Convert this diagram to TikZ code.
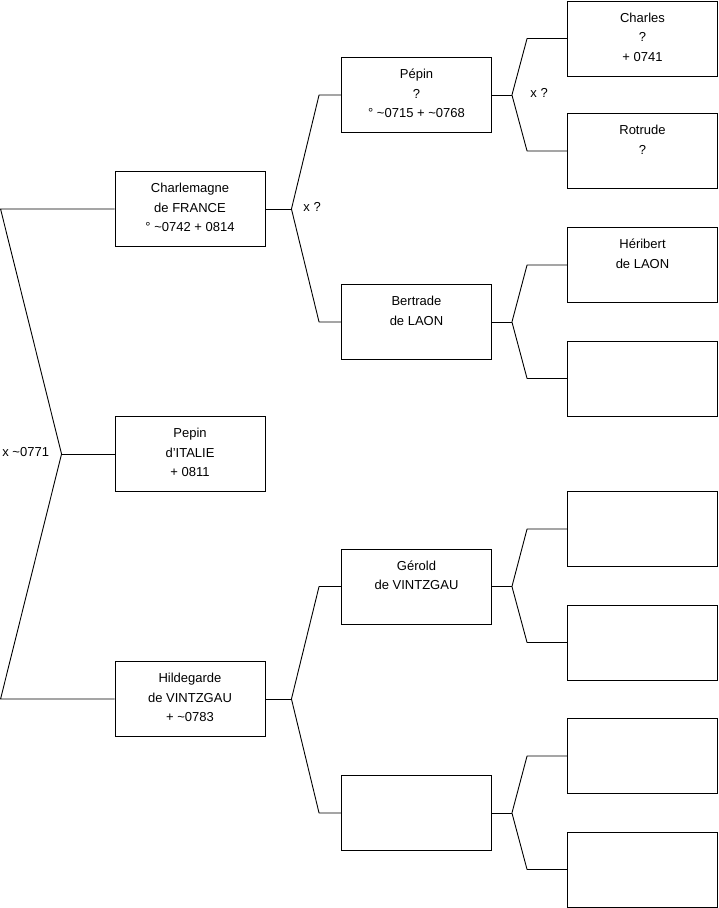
\documentclass[tikz,border=0pt]{standalone}
\usepackage{fontspec}
\setmainfont{Liberation Sans}
\usetikzlibrary{positioning}

\newcommand{\tld}{\textasciitilde}
\newcommand{\fiche}[1]{\parbox[c][60pt][t]{146pt}{\centering\strut #1}}
\tikzset{
 fiche/.style={draw,line width=.9pt,minimum width=150pt,minimum height=75pt,inner sep=0pt},
 lien/.style={line width=.9pt,line join=round}
}

\begin{document}
\begin{tikzpicture}[x=1pt,y=-1pt,font=\fontsize{13}{19.5}\selectfont]
 \useasboundingbox (0,0) rectangle (719,908);
 % generation 1 to 3, sosa numbers
 \foreach \n/\x/\y/\t in {
  1/190/454/{Pepin\\d'ITALIE\\+ 0811},
  2/190/209/{Charlemagne\\de FRANCE\\° \tld0742 + 0814},
  3/190/699/{Hildegarde\\de VINTZGAU\\+ \tld0783},
  4/416.5/95/{Pépin\\?\\° \tld0715 + \tld0768},
  5/416.5/322/{Bertrade\\de LAON},
  6/416.5/586.5/{Gérold\\de VINTZGAU},
  7/416.5/813/{},
  8/642.5/38.5/{Charles\\?\\+ 0741},
  9/642.5/151/{Rotrude\\?},
  10/642.5/265/{Héribert\\de LAON},
  11/642.5/378.5/{},
  12/642.5/529/{},
  13/642.5/642.5/{},
  14/642.5/756/{},
  15/642.5/869.5/{}}{
  \node[fiche] (s\n) at(\x,\y){\fiche{\t}};}
 % root
 \coordinate (v1) at ([xshift=-53pt]s1.west);
 \coordinate (k2) at ([xshift=-114pt]s2.west);
 \coordinate (k3) at ([xshift=-114pt]s3.west);
 \draw[lien] (s1.west)--(v1);
 \draw[lien] (s2.west)--(k2)--(v1)--(k3)--(s3.west);
 % parents
 \foreach \c/\f/\m/\dv/\dk in {2/4/5/26/22,3/6/7/26/22,4/8/9/20/40,
   5/10/11/20/40,6/12/13/20/40,7/14/15/20/40}{
  \coordinate (v\c) at ([xshift=\dv pt]s\c.east);
  \coordinate (k\f) at ([xshift=-\dk pt]s\f.west);
  \coordinate (k\m) at ([xshift=-\dk pt]s\m.west);
  \draw[lien] (s\c.east)--(v\c);
  \draw[lien] (s\f.west)--(k\f)--(v\c)--(k\m)--(s\m.west);}
 \node[left=9pt,yshift=2pt] (m1) at(v1){x \tld0771};
 \node[right=8.5pt,yshift=2pt] (m2) at(v2){x ?};
 \node[right=15pt,yshift=2pt] (m4) at(v4){x ?};
\end{tikzpicture}
\end{document}
